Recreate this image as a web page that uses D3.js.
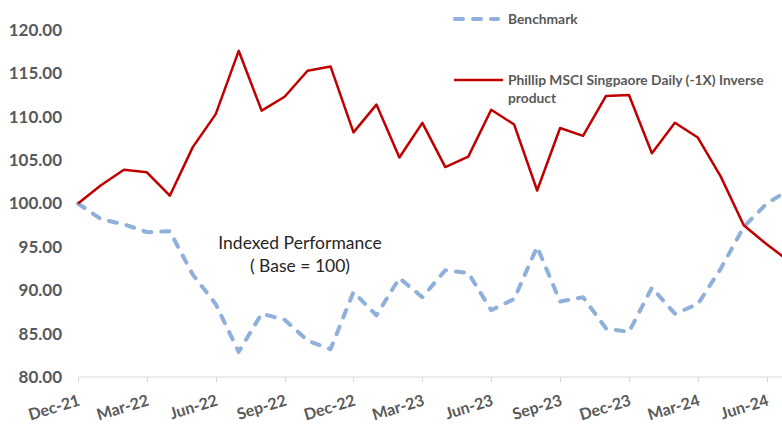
<!DOCTYPE html>
<html><head><meta charset="utf-8">
<script src="https://cdn.jsdelivr.net/npm/d3@7"></script>
<style>html,body{margin:0;padding:0;background:#fff;overflow:hidden;}svg{display:block;}</style>
</head><body><div id="chart"></div>
<script>
const months = ["Dec-21","Jan-22","Feb-22","Mar-22","Apr-22","May-22","Jun-22","Jul-22","Aug-22","Sep-22","Oct-22","Nov-22","Dec-22","Jan-23","Feb-23","Mar-23","Apr-23","May-23","Jun-23","Jul-23","Aug-23","Sep-23","Oct-23","Nov-23","Dec-23","Jan-24","Feb-24","Mar-24","Apr-24","May-24","Jun-24","Jul-24"];
const inverseProduct = [100.0,102.1,103.9,103.6,100.9,106.5,110.3,117.6,110.7,112.3,115.3,115.8,108.2,111.4,105.3,109.3,104.2,105.4,110.8,109.1,101.5,108.7,107.8,112.4,112.5,105.8,109.3,107.6,103.1,97.5,95.3,93.3];
const benchmark = [100.0,98.2,97.6,96.7,96.8,91.8,88.4,82.9,87.3,86.6,84.2,83.2,89.8,87.1,91.4,89.2,92.3,92.0,87.7,89.0,95.0,88.7,89.2,85.6,85.2,90.3,87.3,88.4,92.5,97.3,100.0,101.6];
const yTicks = [80,85,90,95,100,105,110,115,120];
const tickMonths = ["Dec-21","Mar-22","Jun-22","Sep-22","Dec-22","Mar-23","Jun-23","Sep-23","Dec-23","Mar-24","Jun-24"];
const seriesNames = ["Benchmark","Phillip MSCI Singpaore Daily (-1X) Inverse","product"];

const W = 782, H = 425;
const svg = d3.select("#chart").append("svg").attr("width", W).attr("height", H);
const font = "Lato, 'Open Sans', sans-serif";

const x = d3.scaleLinear().domain([0, 30]).range([78, 766.7]);
const y = d3.scaleLinear().domain([80, 120]).range([377, 30]);

// x axis line
svg.append("line").attr("x1", 78).attr("x2", W).attr("y1", y(80)).attr("y2", y(80))
  .attr("stroke", "#d9d9d9").attr("stroke-width", 1);
tickMonths.forEach(m => {
  const i = months.indexOf(m);
  const xp = Math.round(x(i)) + 0.5;
  svg.append("line").attr("x1", xp).attr("x2", xp).attr("y1", y(80)).attr("y2", y(80) + 5)
    .attr("stroke", "#d9d9d9");
  svg.append("text").attr("transform", `translate(${x(i) + 3},${y(80) + 28}) rotate(-17)`)
    .attr("text-anchor", "end").attr("font-family", font).attr("font-size", 16)
    .attr("font-weight", 700).attr("fill", "#5a5a5a").text(m);
});

// y labels
yTicks.forEach(v => {
  svg.append("text").attr("x", 62).attr("y", y(v)).attr("dy", "0.35em")
    .attr("text-anchor", "end").attr("font-family", font).attr("font-size", 17)
    .attr("font-weight", 700).attr("fill", "#56595e").text(d3.format(".2f")(v));
});

const line = d3.line().x((d, i) => x(i)).y(d => y(d));

svg.append("path").datum(benchmark).attr("d", line).attr("fill", "none")
  .attr("stroke", "#8eb0da").attr("stroke-width", 4).attr("stroke-linecap", "round")
  .attr("stroke-linejoin", "round").attr("stroke-dasharray", "8,10");
svg.append("path").datum(inverseProduct).attr("d", line).attr("fill", "none")
  .attr("stroke", "#c00000").attr("stroke-width", 2.5).attr("stroke-linejoin", "round");

// legend
svg.append("line").attr("x1", 455).attr("x2", 498).attr("y1", 19).attr("y2", 19)
  .attr("stroke", "#8eb0da").attr("stroke-width", 4).attr("stroke-linecap", "round")
  .attr("stroke-dasharray", "8,10");
svg.append("line").attr("x1", 454).attr("x2", 503).attr("y1", 80).attr("y2", 80)
  .attr("stroke", "#c00000").attr("stroke-width", 2.5);
const leg = svg.append("g").attr("font-family", font).attr("font-size", 13.8).attr("font-weight", 700).attr("fill", "#595959");
leg.append("text").attr("x", 508).attr("y", 19).attr("dy", "0.35em").text(seriesNames[0]);
leg.append("text").attr("x", 508).attr("y", 80).attr("dy", "0.35em").text(seriesNames[1]);
leg.append("text").attr("x", 508).attr("y", 98).attr("dy", "0.35em").text(seriesNames[2]);

// annotation
const ann = svg.append("g").attr("font-family", font).attr("font-size", 17.5).attr("fill", "#262626").attr("text-anchor", "middle");
ann.append("text").attr("x", 300).attr("y", 243).attr("dy", "0.35em").text("Indexed Performance");
ann.append("text").attr("x", 300).attr("y", 266).attr("dy", "0.35em").text("( Base = 100)");
</script></body></html>
